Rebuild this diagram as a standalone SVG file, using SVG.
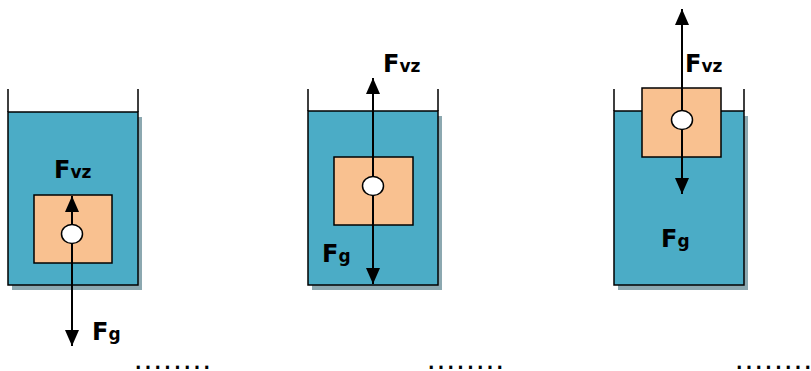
<svg xmlns="http://www.w3.org/2000/svg" width="811" height="371" viewBox="0 0 811 371">
<defs>
<style>
.shadow{fill:#8CA8B0;stroke:none}
.water{fill:#4BACC6;stroke:#000;stroke-width:1.5}
.wall{fill:none;stroke:#000;stroke-width:1.5}
.box{fill:#F9C190;stroke:#000;stroke-width:1.5}
.dot{fill:#fff;stroke:#000;stroke-width:1.5}
.arrow{fill:none;stroke:#000;stroke-width:2;marker-end:url(#ah)}
.lbl{font-family:"DejaVu Sans",Verdana,sans-serif;font-weight:bold;fill:#000}
.big{font-size:24px}
.sub{font-size:17px}
.dots{font-family:"DejaVu Sans",sans-serif;font-weight:bold;font-size:17px;fill:#000}
</style>
<marker id="ah" markerUnits="userSpaceOnUse" markerWidth="16" markerHeight="16" viewBox="0 0 16 16" refX="16" refY="8" orient="auto">
<path d="M0,1 L16,8 L0,15 Z" fill="#000"/>
</marker>
</defs>

<g id="container1">
<rect class="shadow" x="12" y="117" width="130" height="173"/>
<rect class="water" x="8" y="112" width="130" height="173"/>
<path class="wall" d="M8,89 V112 M138,89 V112"/>
<rect class="box" x="34" y="195" width="78" height="68"/>
</g>

<g id="container2">
<rect class="shadow" x="312" y="116" width="130" height="174"/>
<rect class="water" x="308" y="111" width="130" height="174"/>
<path class="wall" d="M308,89 V111 M438,89 V111"/>
<rect class="box" x="334" y="157" width="79" height="68"/>
</g>

<g id="container3">
<rect class="shadow" x="618" y="116" width="130" height="174"/>
<rect class="water" x="614" y="111" width="130" height="174"/>
<path class="wall" d="M614,89 V111 M744,89 V111"/>
<rect class="box" x="642" y="88" width="79" height="69"/>
</g>

<g id="connectors">
<line class="arrow" x1="72" y1="234" x2="72" y2="196"/>
<line class="arrow" x1="72" y1="234" x2="72" y2="346"/>
<line class="arrow" x1="373" y1="186" x2="373" y2="78"/>
<line class="arrow" x1="373" y1="186" x2="373" y2="284"/>
<line class="arrow" x1="682" y1="120" x2="682" y2="9"/>
<line class="arrow" x1="682" y1="120" x2="682" y2="194"/>
</g>

<g id="points">
<ellipse class="dot" cx="72" cy="234" rx="10.5" ry="9.5"/>
<ellipse class="dot" cx="373" cy="186" rx="10.5" ry="9.5"/>
<ellipse class="dot" cx="682" cy="120" rx="10.5" ry="9.5"/>
</g>

<g id="labels">
<text class="lbl" x="54" y="178"><tspan class="big">F</tspan><tspan class="sub">vz</tspan></text>
<text class="lbl" x="92" y="340"><tspan class="big">F</tspan><tspan class="sub">g</tspan></text>
<text class="lbl" x="383" y="72"><tspan class="big">F</tspan><tspan class="sub">vz</tspan></text>
<text class="lbl" x="322" y="262"><tspan class="big">F</tspan><tspan class="sub">g</tspan></text>
<text class="lbl" x="685" y="72"><tspan class="big">F</tspan><tspan class="sub">vz</tspan></text>
<text class="lbl" x="661" y="247"><tspan class="big">F</tspan><tspan class="sub">g</tspan></text>
</g>

<g id="blanks">
<text class="dots" x="135" y="369" textLength="75" lengthAdjust="spacing">........</text>
<text class="dots" x="428" y="369" textLength="75" lengthAdjust="spacing">........</text>
<text class="dots" x="736" y="369" textLength="75" lengthAdjust="spacing">........</text>
</g>
</svg>
